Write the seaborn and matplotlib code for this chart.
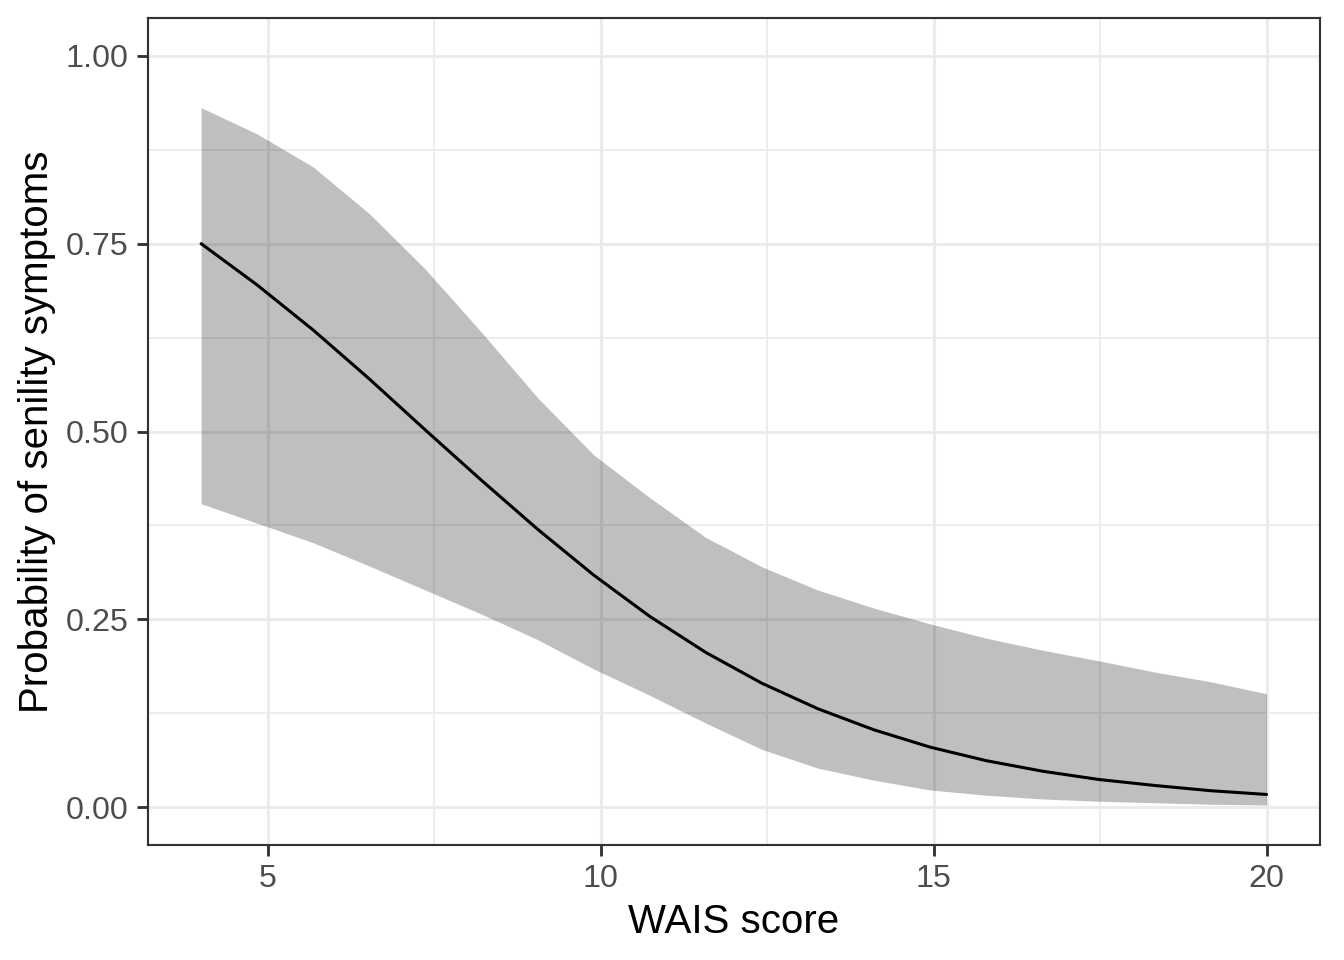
import numpy as np
import pandas as pd
import seaborn as sns
import matplotlib.pyplot as plt
from matplotlib.ticker import MultipleLocator

# values (20 evaluation points of the fitted curve)
wais = [4.000, 4.842, 5.684, 6.526, 7.368, 8.211, 9.053, 9.895, 10.737, 11.579,
        12.421, 13.263, 14.105, 14.947, 15.789, 16.632, 17.474, 18.316, 19.158, 20.000]
prob = [0.750, 0.695, 0.635, 0.570, 0.502, 0.435, 0.370, 0.309, 0.254, 0.206,
        0.165, 0.131, 0.103, 0.080, 0.062, 0.048, 0.037, 0.029, 0.022, 0.017]
upper = [0.931, 0.896, 0.852, 0.790, 0.716, 0.632, 0.545, 0.469, 0.412, 0.359,
         0.320, 0.289, 0.265, 0.244, 0.225, 0.209, 0.195, 0.180, 0.167, 0.151]
lower = [0.404, 0.378, 0.352, 0.321, 0.289, 0.257, 0.223, 0.184, 0.149, 0.112,
         0.077, 0.052, 0.036, 0.023, 0.016, 0.011, 0.008, 0.006, 0.004, 0.003]

df = pd.DataFrame({"wais": wais, "prob": prob, "lo": lower, "hi": upper})

sns.set_style("white")
plt.rcParams['font.family'] = ['Liberation Sans', 'DejaVu Sans']

fig = plt.figure(figsize=(7, 5), dpi=192)
ax = fig.add_axes([0.110, 0.120, 0.872, 0.861])

ax.fill_between(df["wais"], df["lo"], df["hi"], color="black", alpha=0.25,
                linewidth=0, zorder=2)
sns.lineplot(data=df, x="wais", y="prob", color="black", linewidth=1.15,
             ax=ax, zorder=3)

ax.set_xlim(3.2, 20.8)
ax.set_ylim(-0.05, 1.05)
ax.xaxis.set_major_locator(MultipleLocator(5))
ax.xaxis.set_minor_locator(MultipleLocator(2.5))
ax.yaxis.set_major_locator(MultipleLocator(0.25))
ax.yaxis.set_minor_locator(MultipleLocator(0.125))
ax.yaxis.set_major_formatter(plt.FuncFormatter(lambda v, p: f"{v:.2f}"))

ax.set_axisbelow(True)
ax.grid(which="major", color="#EBEBEB", linewidth=1.15)
ax.grid(which="minor", color="#EBEBEB", linewidth=0.65)

for s in ax.spines.values():
    s.set_color("#333333")
    s.set_linewidth(0.8)

ax.tick_params(which="major", bottom=True, left=True, direction="out",
               length=4.0, width=1.07, color="#333333", labelcolor="#4D4D4D",
               labelsize=12.1, pad=3.2)
ax.tick_params(which="minor", bottom=False, left=False, length=0)

ax.set_xlabel("WAIS score", fontsize=15.1, color="black", labelpad=3.5)
ax.set_ylabel("Probability of senility symptoms", fontsize=15.1, color="black", labelpad=3.5)

fig.savefig("out.png", dpi=192)
